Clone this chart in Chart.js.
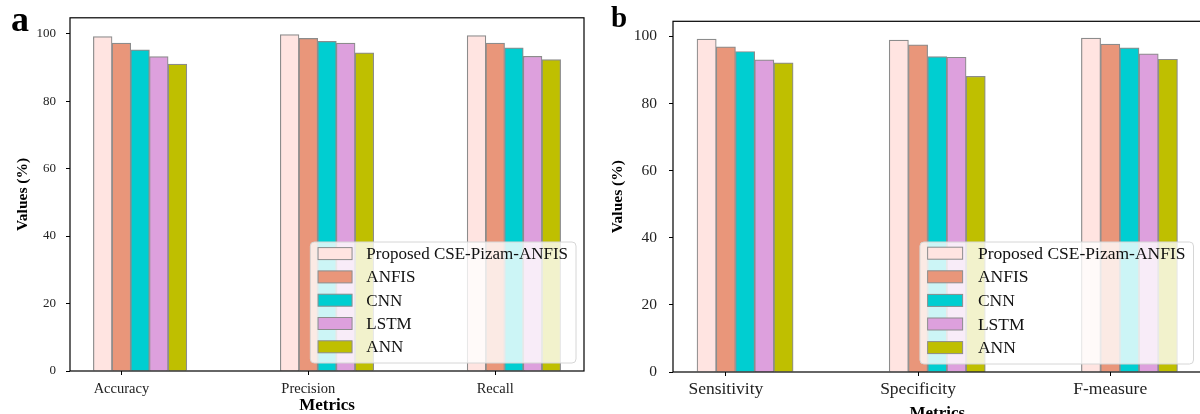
<!DOCTYPE html>
<html>
<head>
<meta charset="utf-8">
<script src="https://cdn.jsdelivr.net/npm/chart.js@4.4.0/dist/chart.umd.min.js"></script>
<style>
  html, body { margin: 0; padding: 0; background: #fff; overflow: hidden; }
  body { width: 1200px; height: 414px; position: relative; }
  .panel { position: absolute; top: 0; }
  #wrapA { left: 0; width: 600px; height: 414px; }
  #wrapB { left: 600px; width: 610px; height: 422px; }
</style>
</head>
<body>
<div class="panel" id="wrapA"><canvas id="chartA"></canvas></div>
<div class="panel" id="wrapB"><canvas id="chartB"></canvas></div>
<script>
const models = ['Proposed CSE-Pizam-ANFIS', 'ANFIS', 'CNN', 'LSTM', 'ANN'];
const colors = ['#FFE4E1', '#E9967A', '#00CED1', '#DDA0DD', '#BFBF00'];

// panel a
const metricsA = ['Accuracy', 'Precision', 'Recall'];
const proposedA = [99.1, 99.7, 99.4];
const anfisA = [97.2, 98.6, 97.2];
const cnnA = [95.2, 97.7, 95.8];
const lstmA = [93.2, 97.2, 93.3];
const annA = [91.0, 94.3, 92.3];

// panel b
const metricsB = ['Sensitivity', 'Specificity', 'F-measure'];
const proposedB = [99.2, 98.9, 99.5];
const anfisB = [96.9, 97.5, 97.7];
const cnnB = [95.5, 94.0, 96.6];
const lstmB = [93.0, 93.8, 94.8];
const annB = [92.1, 88.1, 93.2];

const yTicks = [0, 20, 40, 60, 80, 100];

const barStep = 0.1; // bar width in category units, ticks sit on the 2nd bar
const FONT = '"Liberation Serif", "Times New Roman", serif';

// box around the plot area (matplotlib spines)
const frame = {
  id: 'frame',
  afterDraw(chart) {
    const { ctx, chartArea: a } = chart;
    ctx.save();
    ctx.strokeStyle = '#000';
    ctx.lineWidth = 1.2;
    ctx.strokeRect(a.left, a.top, a.right - a.left, a.bottom - a.top);
    ctx.restore();
  }
};

// legend drawn inside the plot, lower right
const legendBox = {
  id: 'legendBox',
  afterDatasetsDraw(chart, args, o) {
    const { ctx, chartArea } = chart;
    const sets = chart.data.datasets;
    ctx.save();
    ctx.font = o.fontSize + 'px ' + FONT;
    const textW = Math.max(...sets.map(d => ctx.measureText(d.label).width));
    const w = o.textOffset + textW + o.padRight;
    const h = o.height;
    const x = chartArea.right - o.margin - w;
    const y = chartArea.bottom - o.margin - h;
    ctx.beginPath();
    ctx.roundRect(x, y, w, h, 4);
    ctx.fillStyle = 'rgba(255,255,255,0.8)';
    ctx.fill();
    ctx.strokeStyle = '#d6d6d6';
    ctx.lineWidth = 1;
    ctx.stroke();
    sets.forEach((d, i) => {
      const cy = y + o.firstRow + i * o.rowGap;
      ctx.fillStyle = d.backgroundColor;
      ctx.fillRect(x + o.handleX, cy - o.handleH / 2, o.handleW, o.handleH);
      ctx.strokeStyle = d.borderColor;
      ctx.strokeRect(x + o.handleX, cy - o.handleH / 2, o.handleW, o.handleH);
      ctx.fillStyle = '#111';
      ctx.textBaseline = 'middle';
      ctx.fillText(d.label, x + o.textOffset, cy + 1);
    });
    ctx.restore();
  }
};

const panelLetter = {
  id: 'panelLetter',
  afterDraw(chart, args, o) {
    const ctx = chart.ctx;
    ctx.save();
    ctx.font = 'bold ' + o.size + 'px ' + FONT;
    ctx.fillStyle = '#000';
    ctx.textBaseline = 'alphabetic';
    ctx.fillText(o.text, o.x, o.y);
    ctx.restore();
  }
};

function makeChart(id, labels, series, s) {
  const datasets = models.map((m, j) => ({
    label: m,
    data: series[j].map((v, i) => ({ x: i + j * barStep, y: v })),
    backgroundColor: colors[j],
    borderColor: '#8c8c8c',
    borderWidth: 1.2,
    categoryPercentage: 1,
    barPercentage: 1,
    grouped: false
  }));

  return new Chart(document.getElementById(id), {
    type: 'bar',
    data: { datasets },
    plugins: [frame, legendBox, panelLetter],
    options: {
      responsive: true,
      maintainAspectRatio: false,
      animation: false,
      layout: { padding: s.padding },
      plugins: {
        legend: { display: false },
        tooltip: { enabled: false },
        legendBox: s.legend,
        panelLetter: s.letter
      },
      scales: {
        x: {
          type: 'linear',
          min: -0.175,
          max: 2.575,
          offset: false,
          afterFit: sc => { sc.height = s.xHeight; },
          afterBuildTicks: sc => { sc.ticks = labels.map((_, i) => ({ value: i + barStep })); },
          grid: { display: true, drawOnChartArea: false, drawTicks: true, tickLength: 4, color: '#000', offset: false },
          border: { display: false },
          ticks: {
            autoSkip: false,
            maxRotation: 0,
            padding: s.xPad,
            color: '#222',
            font: { family: FONT, size: s.xFont },
            callback: (v, i) => labels[i]
          },
          title: {
            display: true,
            text: 'Metrics',
            color: '#000',
            padding: { top: 0, bottom: 0 },
            font: { family: FONT, size: 17, weight: 'bold', lineHeight: 1.0 }
          }
        },
        y: {
          min: 0,
          max: s.yMax,
          afterFit: sc => { sc.width = s.yWidth; },
          afterBuildTicks: sc => { sc.ticks = yTicks.map(v => ({ value: v })); },
          grid: { display: true, drawOnChartArea: false, drawTicks: true, tickLength: 4, color: '#000' },
          border: { display: false },
          ticks: {
            padding: s.yPad,
            color: '#222',
            font: { family: FONT, size: s.yFont }
          },
          title: {
            display: true,
            text: 'Values (%)',
            color: '#000',
            padding: { top: s.yTitleTop, bottom: 0 },
            font: { family: FONT, size: 15.5, weight: 'bold', lineHeight: 1.2 }
          }
        }
      }
    }
  });
}

makeChart('chartA', metricsA, [proposedA, anfisA, cnnA, lstmA, annA], {
  padding: { left: 0, right: 16, top: 14, bottom: 0 },
  yWidth: 70, xHeight: 43, yMax: 104.7,
  xFont: 14.5, yFont: 13, xPad: 5, yPad: 10, yTitleTop: 14,
  legend: { fontSize: 17, margin: 8, height: 121, firstRow: 11.6, rowGap: 23.3,
            handleX: 7.7, handleW: 34, handleH: 12, textOffset: 56, padRight: 8 },
  letter: { text: 'a', size: 36, x: 11, y: 31 }
});

makeChart('chartB', metricsB, [proposedB, anfisB, cnnB, lstmB, annB], {
  padding: { left: 0, right: 8.5, top: 16, bottom: 0 },
  yWidth: 73, xHeight: 50, yMax: 104.5,
  xFont: 17.5, yFont: 15.5, xPad: 3, yPad: 12, yTitleTop: 9,
  legend: { fontSize: 17.5, margin: 8, height: 122, firstRow: 11.2, rowGap: 23.6,
            handleX: 7.7, handleW: 35, handleH: 12, textOffset: 58, padRight: 8 },
  letter: { text: 'b', size: 29, x: 11, y: 27 }
});
</script>
</body>
</html>
